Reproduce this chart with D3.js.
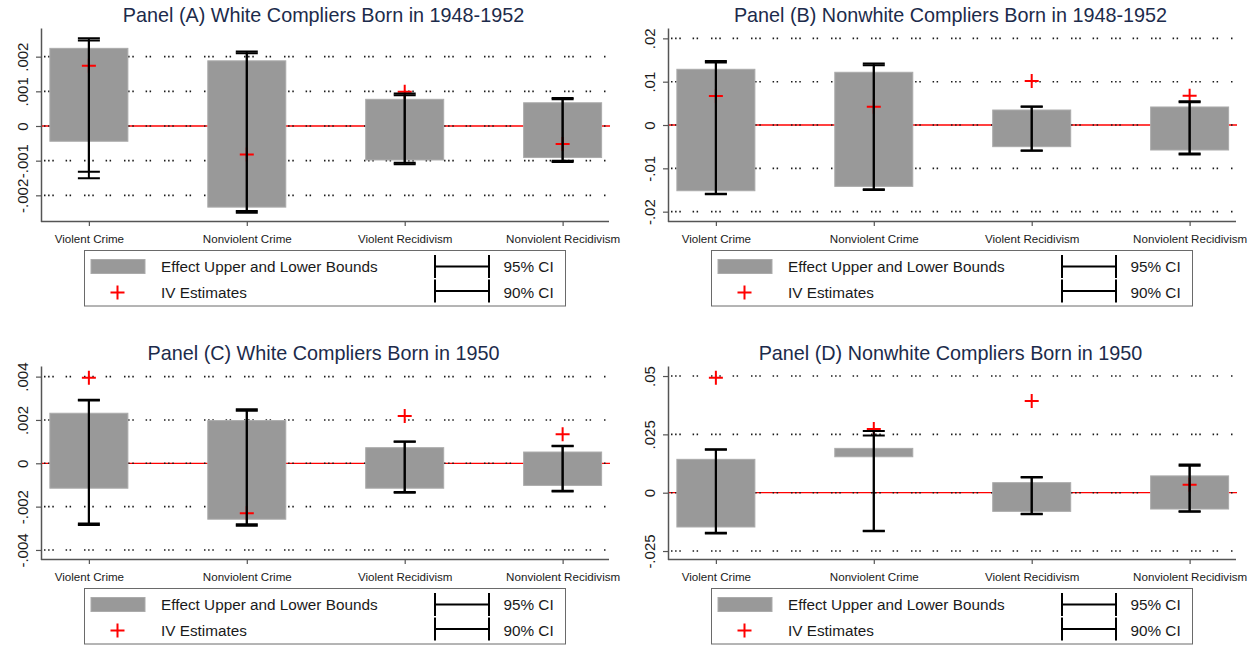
<!DOCTYPE html>
<html>
<head>
<meta charset="utf-8">
<script src="https://cdn.jsdelivr.net/npm/d3@7"></script>
<style>
  html, body { margin: 0; padding: 0; background: #fff; }
  svg { display: block; font-family: "Liberation Sans", Arial, sans-serif; }
</style>
</head>
<body>
<svg id="chart" width="1257" height="647"></svg>
<script>
// Outcome categories shared by all panels
const categories = ["Violent Crime", "Nonviolent Crime", "Violent Recidivism", "Nonviolent Recidivism"];

const titles = [
  "Panel (A) White Compliers Born in 1948-1952",
  "Panel (B) Nonwhite Compliers Born in 1948-1952",
  "Panel (C) White Compliers Born in 1950",
  "Panel (D) Nonwhite Compliers Born in 1950"
];

// Panel A: white compliers, 1948-1952
const aUpper   = [0.00224, 0.00188, 0.00077, 0.00067];
const aLower   = [-0.00044, -0.00234, -0.00098, -0.00091];
const aIV      = [0.00174, -0.00082, 0.00099, -0.00052];
const aCI95Hi  = [0.00253, 0.00215, 0.00094, 0.00081];
const aCI95Lo  = [-0.00151, -0.00250, -0.00110, -0.00104];
const aCI90Hi  = [0.00247, 0.00210, 0.00089, 0.00077];
const aCI90Lo  = [-0.00132, -0.00245, -0.00106, -0.00100];
const aTicks   = [-0.002, -0.001, 0, 0.001, 0.002];
const aLabels  = ["-.002", "-.001", "0", ".001", ".002"];
const aRange   = [-0.002755, 0.002827];

// Panel B: nonwhite compliers, 1948-1952
const bUpper   = [0.01286, 0.01217, 0.00346, 0.00416];
const bLower   = [-0.01517, -0.01416, -0.00500, -0.00577];
const bIV      = [0.00670, 0.00423, 0.01016, 0.00677];
const bCI95Hi  = [0.01475, 0.01420, 0.00425, 0.00550];
const bCI95Lo  = [-0.01600, -0.01500, -0.00595, -0.00680];
const bCI90Hi  = [0.01445, 0.01380, 0.00420, 0.00525];
const bCI90Lo  = [-0.01585, -0.01485, -0.00590, -0.00660];
const bTicks   = [-0.02, -0.01, 0, 0.01, 0.02];
const bLabels  = ["-.02", "-.01", "0", ".01", ".02"];
const bRange   = [-0.02227, 0.02239];

// Panel C: white compliers, 1950
const cUpper   = [0.00231, 0.00197, 0.00072, 0.00052];
const cLower   = [-0.00115, -0.00258, -0.00115, -0.00102];
const cIV      = [0.00395, -0.00231, 0.00218, 0.00134];
const cCI95Hi  = [0.00293, 0.00249, 0.00101, 0.00081];
const cCI95Lo  = [-0.00285, -0.00288, -0.00136, -0.00130];
const cCI90Hi  = [0.00290, 0.00243, 0.00099, 0.00079];
const cCI90Lo  = [-0.00278, -0.00281, -0.00133, -0.00127];
const cTicks   = [-0.004, -0.002, 0, 0.002, 0.004];
const cLabels  = ["-.004", "-.002", "0", ".002", ".004"];
const cRange   = [-0.00444, 0.00449];

// Panel D: nonwhite compliers, 1950
const dUpper   = [0.0143, 0.0190, 0.0043, 0.0072];
const dLower   = [-0.0147, 0.0154, -0.0080, -0.0070];
const dIV      = [0.0493, 0.0273, 0.0393, 0.0034];
const dCI95Hi  = [0.0186, 0.0264, 0.0067, 0.0121];
const dCI95Lo  = [-0.0175, -0.0165, -0.0092, -0.0082];
const dCI90Hi  = [0.0184, 0.0245, 0.0065, 0.0115];
const dCI90Lo  = [-0.0172, -0.0163, -0.0090, -0.0080];
const dTicks   = [-0.025, 0, 0.025, 0.05];
const dLabels  = ["-.025", "0", ".025", ".05"];
const dRange   = [-0.02863, 0.0543];

const legendLabels = ["Effect Upper and Lower Bounds", "IV Estimates", "95% CI", "90% CI"];

const panels = [
  { title: titles[0], upper: aUpper, lower: aLower, iv: aIV, hi95: aCI95Hi, lo95: aCI95Lo, hi90: aCI90Hi, lo90: aCI90Lo, ticks: aTicks, labels: aLabels, range: aRange, ox: 0,   oy: 0 },
  { title: titles[1], upper: bUpper, lower: bLower, iv: bIV, hi95: bCI95Hi, lo95: bCI95Lo, hi90: bCI90Hi, lo90: bCI90Lo, ticks: bTicks, labels: bLabels, range: bRange, ox: 627, oy: 0 },
  { title: titles[2], upper: cUpper, lower: cLower, iv: cIV, hi95: cCI95Hi, lo95: cCI95Lo, hi90: cCI90Hi, lo90: cCI90Lo, ticks: cTicks, labels: cLabels, range: cRange, ox: 0,   oy: 338 },
  { title: titles[3], upper: dUpper, lower: dLower, iv: dIV, hi95: dCI95Hi, lo95: dCI95Lo, hi90: dCI90Hi, lo90: dCI90Lo, ticks: dTicks, labels: dLabels, range: dRange, ox: 627, oy: 338 }
];

const svg = d3.select("#chart");
svg.append("rect").attr("width", 1257).attr("height", 647).attr("fill", "#fff");

// plot region inside each panel
const plotLeft = 41, plotRight = 610, plotTop = 28, plotBottom = 221.5;
const barWidth = 78, capHalf = 11;
const gridDash = "1.5,2.6,1.5,2.7,1.5,11.8,1.5,2.5,1.5,12.9";
const titleColor = "#1c2b4b";

panels.forEach(p => {
  const g = svg.append("g").attr("transform", `translate(${p.ox},${p.oy})`);

  const x = d3.scalePoint().domain(categories).range([plotLeft + 0.5, plotRight]).padding(0.3);
  const y = d3.scaleLinear().domain(p.range).range([plotBottom, plotTop]);

  // title
  g.append("text")
    .attr("x", (plotLeft + plotRight) / 2 - 2)
    .attr("y", 22)
    .attr("text-anchor", "middle")
    .attr("font-size", "19.8px")
    .attr("fill", titleColor)
    .text(p.title);

  // reference line at zero
  g.append("line")
    .attr("x1", plotLeft).attr("x2", plotRight)
    .attr("y1", y(0)).attr("y2", y(0))
    .attr("stroke", "#ff0000").attr("stroke-width", 1.3);

  // dotted gridlines
  g.append("g").selectAll("line").data(p.ticks).join("line")
    .attr("x1", plotLeft + 3).attr("x2", plotRight - 2)
    .attr("y1", d => y(d)).attr("y2", d => y(d))
    .attr("stroke", "#1a1a1a").attr("stroke-width", 1.6)
    .attr("stroke-dasharray", gridDash);

  // bounds bars
  g.append("g").selectAll("rect").data(categories).join("rect")
    .attr("x", d => x(d) - barWidth / 2)
    .attr("width", barWidth)
    .attr("y", (d, i) => y(p.upper[i]))
    .attr("height", (d, i) => y(p.lower[i]) - y(p.upper[i]))
    .attr("fill", "#999999")
    .attr("stroke", "#ababab").attr("stroke-width", 1);

  // IV point estimates
  g.append("g").selectAll("path").data(categories).join("path")
    .attr("transform", (d, i) => `translate(${x(d)},${y(p.iv[i])})`)
    .attr("d", "M-7,0H7M0,-7V7")
    .attr("stroke", "#ff0000").attr("stroke-width", 2).attr("fill", "none");

  // confidence intervals (95% and 90%)
  [[p.lo95, p.hi95], [p.lo90, p.hi90]].forEach(([lo, hi]) => {
    g.append("g").selectAll("path").data(categories).join("path")
      .attr("d", (d, i) => {
        const cx = x(d), y0 = y(lo[i]), y1 = y(hi[i]);
        return `M${cx},${y0}V${y1}M${cx - capHalf},${y1}H${cx + capHalf}M${cx - capHalf},${y0}H${cx + capHalf}`;
      })
      .attr("stroke", "#000").attr("stroke-width", 2).attr("fill", "none");
  });

  // y axis
  const yAxis = g.append("g")
    .attr("transform", `translate(${plotLeft},0)`)
    .call(d3.axisLeft(y).tickValues(p.ticks).tickFormat((d, i) => p.labels[i]).tickSize(5).tickSizeOuter(0));
  yAxis.select(".domain").attr("stroke", "#555").attr("stroke-width", 1.5);
  yAxis.selectAll(".tick line").attr("stroke", "#555").attr("stroke-width", 1.2);
  yAxis.selectAll(".tick text")
    .attr("x", null).attr("dy", null)
    .attr("transform", "translate(-13.5,0) rotate(-90)")
    .attr("text-anchor", "middle")
    .attr("font-size", "15px")
    .attr("font-family", "'Liberation Sans', Arial, sans-serif")
    .attr("fill", "#1a1a1a");

  // x axis
  const xAxis = g.append("g")
    .attr("transform", `translate(0,${plotBottom})`)
    .call(d3.axisBottom(x).tickSize(4.5).tickSizeOuter(0));
  xAxis.select(".domain").attr("stroke", "#555").attr("stroke-width", 1.5)
    .attr("d", `M${plotLeft},0H${plotRight - 1}`);
  xAxis.selectAll(".tick line").attr("stroke", "#555").attr("stroke-width", 1.2);
  xAxis.selectAll(".tick text")
    .attr("y", 21.5).attr("dy", null)
    .attr("font-size", "11.6px")
    .attr("font-family", "'Liberation Sans', Arial, sans-serif")
    .attr("fill", "#1a1a1a");

  // legend
  const lg = g.append("g");
  lg.append("rect")
    .attr("x", 84.5).attr("y", 250.5).attr("width", 481).attr("height", 55.5)
    .attr("fill", "#fff").attr("stroke", "#6a6a6a").attr("stroke-width", 1);
  lg.append("rect")
    .attr("x", 91).attr("y", 259.5).attr("width", 54).attr("height", 14)
    .attr("fill", "#999999").attr("stroke", "#ababab").attr("stroke-width", 1);
  lg.append("path")
    .attr("transform", "translate(117.5,292.5)")
    .attr("d", "M-7,0H7M0,-7V7")
    .attr("stroke", "#ff0000").attr("stroke-width", 2);
  [266.5, 291].forEach(cy => {
    lg.append("path")
      .attr("d", `M435,${cy - 11.5}V${cy + 11.5}M489,${cy - 11.5}V${cy + 11.5}M435,${cy}H489`)
      .attr("stroke", "#000").attr("stroke-width", 2).attr("fill", "none");
  });
  const legendText = [
    [161, 271.5, legendLabels[0]],
    [161, 297.5, legendLabels[1]],
    [503.5, 271.5, legendLabels[2]],
    [503.5, 297.5, legendLabels[3]]
  ];
  lg.selectAll("text.leg").data(legendText).join("text")
    .attr("class", "leg")
    .attr("x", d => d[0]).attr("y", d => d[1])
    .attr("font-size", "15.3px")
    .attr("fill", "#1a1a1a")
    .text(d => d[2]);
});
</script>
</body>
</html>
